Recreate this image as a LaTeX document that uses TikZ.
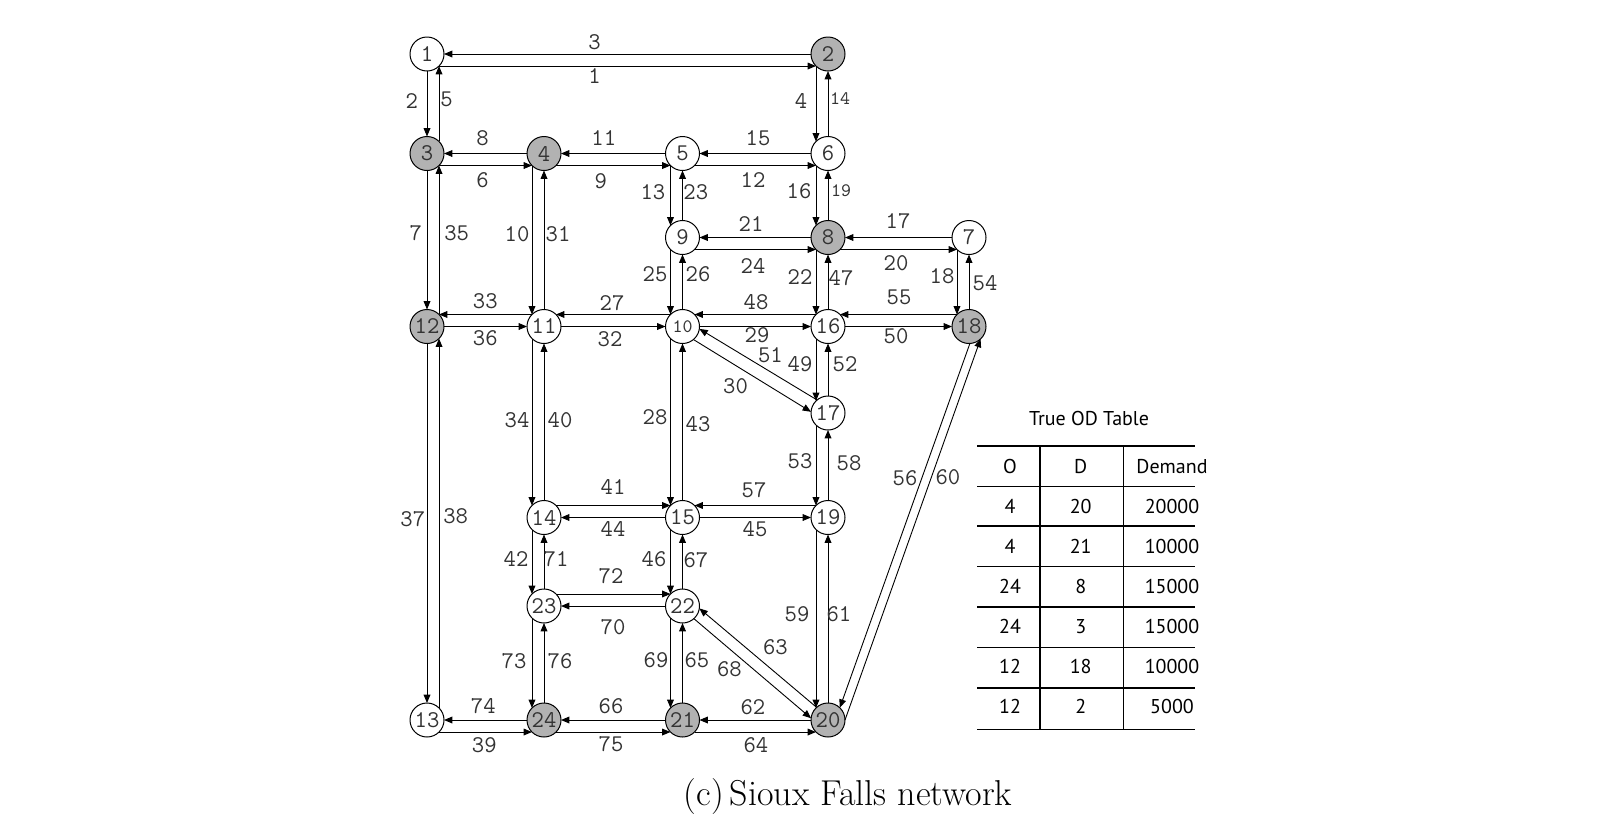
\documentclass[tikz,border=0pt]{standalone}
\usepackage{fontspec}
\newfontfamily\odfont{PT Sans}
\usetikzlibrary{arrows.meta}

\begin{document}
\begin{tikzpicture}[x=0.5pt, y=-0.5pt,
    vert/.style={circle, draw, line width=0.5pt, fill=white, minimum size=17pt,
        inner sep=0pt, outer sep=0pt, text=black!80,
        font=\ttfamily\fontsize{12}{12}\selectfont},
    hub/.style={vert, fill=black!30},
    link/.style={-{Triangle[length=4.2pt, width=3.4pt]}, line width=0.45pt},
    lab/.style={inner sep=0pt, text=black!80, font=\ttfamily\fontsize{12}{12}\selectfont},
    cell/.style={anchor=base, font=\odfont\fontsize{10}{12}\selectfont}]
    \useasboundingbox (0,0) rectangle (1602,836);

    % mazgai
    \foreach \n/\px/\py in {1/427/54, 5/682.5/153.5, 6/828/153.5, 7/969/237.5,
        9/682.5/237.5, 11/544/326.5, 13/427/720, 14/544/517.5, 15/682.5/517.5,
        16/828/326.5, 17/828/413, 19/828/517.5, 22/682.5/606, 23/544/606}
        \node[vert] (n\n) at (\px,\py) {\n};
    \node[vert, font=\ttfamily\fontsize{9.5}{10}\selectfont] (n10) at (682.5,326.5) {10};
    \foreach \n/\px/\py in {2/828/54, 3/427/153.5, 4/544/153.5, 8/828/237.5,
        12/427/326.5, 18/969/326.5, 20/828/720, 21/682.5/720, 24/544/720}
        \node[hub] (n\n) at (\px,\py) {\n};

    % lankai: is mazgo.kampo i mazga.kampa
    \foreach \a/\p/\b/\q in {
        2/180/1/0, 4/180/3/0, 5/180/4/0, 6/180/5/0, 8/180/9/0, 7/180/8/0,
        12/0/11/180, 11/0/10/180, 10/0/16/180, 16/0/18/180,
        15/180/14/0, 15/0/19/180, 22/180/23/0,
        24/180/13/0, 21/180/24/0, 20/180/21/0,
        1/-90/3/90, 3/-90/12/90, 12/-90/13/90,
        11/90/4/-90, 14/90/11/-90, 23/90/14/-90, 24/90/23/-90,
        9/90/5/-90, 10/90/9/-90, 15/90/10/-90, 22/90/15/-90, 21/90/22/-90,
        6/90/2/-90, 8/90/6/-90, 16/90/8/-90, 17/90/16/-90, 19/90/17/-90,
        20/90/19/-90, 18/90/7/-90,
        1/-45/2/-135, 3/-45/4/-135, 4/-45/5/-135, 5/-45/6/-135,
        9/-45/8/-135, 8/-45/7/-135, 13/-45/24/-135, 24/-45/21/-135, 21/-45/20/-135,
        11/135/12/45, 10/135/11/45, 16/135/10/45, 18/135/16/45, 19/135/15/45,
        14/45/15/135, 23/45/22/135,
        3/45/1/-45, 12/45/3/-45, 13/45/12/-45,
        4/-135/11/135, 11/-135/14/135, 14/-135/23/135, 23/-135/24/135,
        5/-135/9/135, 9/-135/10/135, 10/-135/15/135, 15/-135/22/135, 22/-135/21/135,
        2/-135/6/135, 6/-135/8/135, 8/-135/16/135, 16/-135/17/135, 17/-135/19/135,
        19/-135/20/135, 7/-135/18/135,
        17/130/10/-8, 10/-50/17/176, 20/132/22/-8, 22/-48/20/174,
        18/-87/20/46, 20/0/18/-47}
        \draw[link] (n\a.\p) -- (n\b.\q);

    % lanku numeriai
    \foreach \l/\px/\py in {1/594.6/75.6, 2/411.7/101, 3/594.6/42, 4/801/101,
        5/446.5/99, 6/482.5/180.5, 7/415.8/233, 8/482.5/138, 9/600.8/181,
        10/517/234, 11/603.8/138, 12/753/180, 13/652.9/192, 15/758/138,
        16/799/191, 17/898/221, 18/942/276, 20/896/263.6, 21/751/224,
        22/800/277, 23/695.8/192, 24/753/265.6, 25/655/274, 26/698/274,
        27/612/303.4, 28/655/417, 29/757/335, 30/735.6/386, 31/558/234,
        32/610/339, 33/485.3/301.4, 34/517/420, 35/456.7/233, 36/485.3/338.2,
        37/412.8/519, 38/455.7/516, 39/484.3/744.8, 40/560/420, 41/613/487.4,
        42/516/559, 43/698/424, 44/613/529.2, 45/755/529.2, 46/654/559,
        47/841/278, 48/756/302.4, 49/800/363.7, 50/896/336, 51/770.4/355.6,
        52/845/363.7, 53/800/460.8, 54/985/283, 55/899/297.3, 56/905/478,
        57/754/490.4, 58/849/462.8, 59/797/614, 60/948/477, 61/839/614,
        62/753/707, 63/775.5/646.7, 64/756/744.8, 65/697/660, 66/611/706,
        67/696/560, 68/729.5/669, 69/656/660, 70/613/627.3, 71/556/559,
        72/611/576, 73/514/661, 74/483.3/706, 75/611/743.8, 76/560/661}
        \node[lab] (l\l) at (\px,\py) {\l};
    \node[lab, font=\ttfamily\fontsize{9.5}{10}\selectfont] (l14) at (840,99) {14};
    \node[lab, font=\ttfamily\fontsize{9.5}{10}\selectfont] (l19) at (841,191) {19};

    % OD lentele
    \node[cell] (odtitle) at (1089,425) {True OD Table};
    \foreach \ly in {446, 486.5, 526, 566.5, 607, 647.5, 688, 729.5}
        \draw[line width=0.9pt] (977,\ly) -- (1195,\ly);
    \draw[line width=0.9pt] (1040,446) -- (1040,729.5);
    \draw[line width=0.9pt] (1123.5,446) -- (1123.5,729.5);
    \node[cell] (ho) at (1010,473.5) {O};
    \node[cell] (hd) at (1080.7,473.5) {D};
    \node[cell] (hdem) at (1172,473.5) {Demand};
    \foreach \o/\d/\q [count=\i] in {4/20/20000, 4/21/10000, 24/8/15000,
        24/3/15000, 12/18/10000, 12/2/5000} {
        \node[cell] (o\i) at (1010,473.5+40*\i) {\o};
        \node[cell] (d\i) at (1080.7,473.5+40*\i) {\d};
        \node[cell] (q\i) at (1172,473.5+40*\i) {\q};
    }

    % antraste
    \node[anchor=base, font=\fontsize{18}{22}\selectfont] (caption) at (848,805)
        {(c)\,Sioux Falls network};
\end{tikzpicture}
\end{document}
